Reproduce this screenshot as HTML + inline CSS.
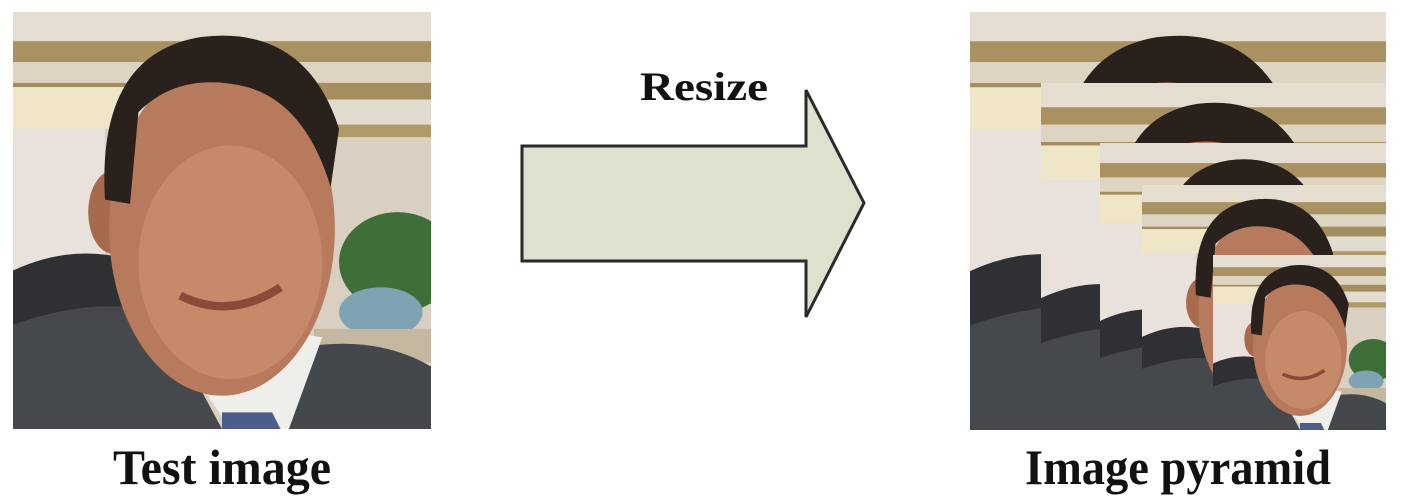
<!DOCTYPE html>
<html><head><meta charset="utf-8"><style>
html,body{margin:0;padding:0;background:#fff;}
svg{display:block;}
</style></head><body>
<svg width="1403" height="501" viewBox="0 0 1403 501" xmlns="http://www.w3.org/2000/svg">
<defs>
<symbol id="ph" viewBox="0 0 100 100" preserveAspectRatio="none">
  <rect x="0" y="0" width="100" height="100" fill="#d9d0c2"/>
  <rect x="0" y="0" width="100" height="7" fill="#e4ddd0"/>
  <rect x="0" y="7" width="100" height="5" fill="#a99161"/>
  <rect x="0" y="12" width="100" height="5" fill="#ddd4c2"/>
  <rect x="0" y="17" width="100" height="4" fill="#a48d5e"/>
  <rect x="0" y="21" width="100" height="6" fill="#e2dccf"/>
  <rect x="0" y="18" width="30" height="10" fill="#efe6c8"/>
  <rect x="0" y="28" width="22" height="45" fill="#e9e2dc"/>
  <rect x="70" y="27" width="30" height="3" fill="#b19a6a"/>
  <ellipse cx="92" cy="60" rx="14" ry="12" fill="#3f6f38"/>
  <ellipse cx="88" cy="72" rx="10" ry="6" fill="#7fa3b3"/>
  <rect x="72" y="76" width="28" height="8" fill="#c4b8a0"/>
  <path d="M0 62 Q15 55 30 60 L40 100 L0 100 Z" fill="#2f3033"/>
  <path d="M0 75 Q20 68 35 72 L50 100 L0 100Z" fill="#45484c"/>
  <path d="M62 100 L72 80 Q88 78 100 85 L100 100 Z" fill="#44474b"/>
  <path d="M33 72 L52 100 L66 100 L74 78 Z" fill="#eeeeea"/>
  <path d="M50 96 L62 96 L64 100 L50 100 Z" fill="#4d5c88"/>
  <ellipse cx="24" cy="48" rx="6" ry="10" fill="#a86a4c"/>
  <ellipse cx="50" cy="52" rx="27" ry="40" fill="#b87a5c"/>
  <ellipse cx="52" cy="60" rx="22" ry="28" fill="#c48a6a"/>
  <path d="M22 45 Q20 10 45 6 Q70 3 78 28 L76 42 Q70 22 56 18 Q40 14 30 24 L28 46 Z" fill="#2a211d"/>
  <path d="M40 68 Q52 74 64 66" stroke="#8a4a3a" stroke-width="2" fill="none"/>
</symbol>
</defs>

<use href="#ph" x="13" y="12" width="418" height="417"/>
<text x="222" y="484" text-anchor="middle" font-family="Liberation Serif, serif" font-weight="bold" font-size="50" textLength="218" lengthAdjust="spacingAndGlyphs" fill="#111">Test image</text>

<path d="M522 146 L806 146 L806 90 L864 203 L806 317 L806 261 L522 261 Z" fill="#dde2cf" stroke="#2a2a2a" stroke-width="3" stroke-linejoin="miter"/>
<text x="704" y="100" text-anchor="middle" font-family="Liberation Serif, serif" font-weight="bold" font-size="40" textLength="128" lengthAdjust="spacingAndGlyphs" fill="#111">Resize</text>

<svg x="970" y="12" width="416" height="418" viewBox="970 12 416 418" overflow="hidden">
  <use href="#ph" x="970" y="12" width="416" height="418"/>
  <use href="#ph" x="1041" y="83" width="347" height="347"/>
  <use href="#ph" x="1100" y="143" width="287" height="287"/>
  <use href="#ph" x="1142" y="185" width="245" height="245"/>
  <use href="#ph" x="1213" y="255" width="174" height="175"/>
</svg>
<text x="1178" y="484" text-anchor="middle" font-family="Liberation Serif, serif" font-weight="bold" font-size="50" textLength="306" lengthAdjust="spacingAndGlyphs" fill="#111">Image pyramid</text>
</svg>
</body></html>
